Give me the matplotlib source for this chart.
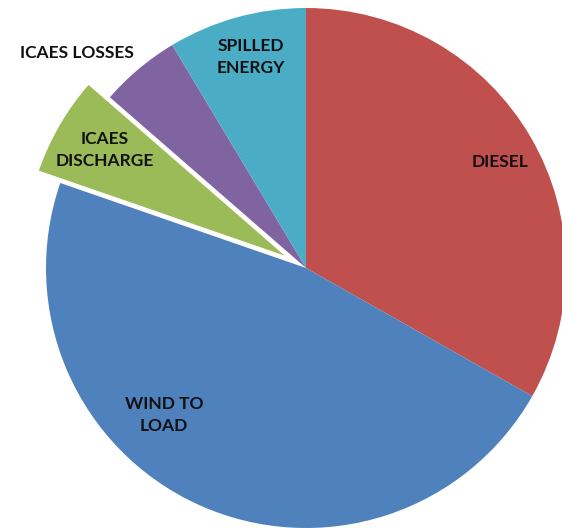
import matplotlib
matplotlib.use("Agg")
import matplotlib.pyplot as plt

# Energy shares (%) by source / sink
categories = ["DIESEL", "WIND TO\nLOAD", "ICAES\nDISCHARGE", "ICAES LOSSES", "SPILLED\nENERGY"]
shares = [33.2, 47.1, 6.1, 5.0, 8.6]
colors = ["#C0504D", "#4F81BD", "#9BBB59", "#8064A2", "#4BACC6"]
explode_frac = [0, 0, 0.095, 0, 0]

W, H = 562, 528
fig = plt.figure(figsize=(W / 100, H / 100), dpi=100)
ax = fig.add_axes([0, 0, 1, 1])

cx, cy, r = 306, H - 268, 260
ax.pie(shares, colors=colors, explode=[e * r for e in explode_frac],
       startangle=90, counterclock=False, center=(cx, cy), radius=r,
       wedgeprops=dict(linewidth=0))

ax.set_xlim(0, W)
ax.set_ylim(0, H)
ax.set_aspect("equal")
ax.axis("off")

# label anchors in pixel space (x, y from top)
label_pos = [(500, 162), (164, 415), (105, 150), (77, 53), (251, 57)]
for text, (x, y) in zip(categories, label_pos):
    ax.text(x, H - y, text, ha="center", va="center", fontsize=12.5,
            fontweight="bold", family="Lato", color="#111111",
            linespacing=1.4)

fig.savefig("out.png", dpi=100)
